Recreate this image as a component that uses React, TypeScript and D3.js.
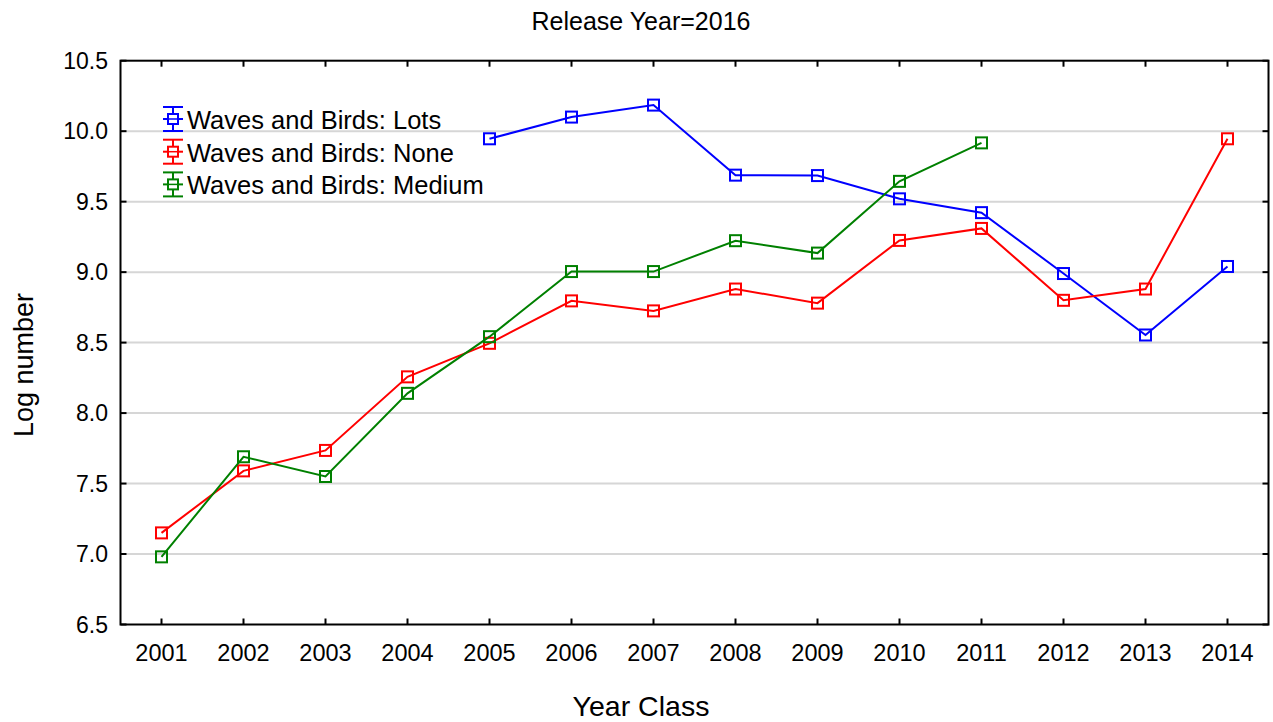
import React from "react";
import * as d3 from "d3";

const years = [2001, 2002, 2003, 2004, 2005, 2006, 2007, 2008, 2009, 2010, 2011, 2012, 2013, 2014];
const lots: (number | null)[] = [null, null, null, null, 9.946, 10.10, 10.185, 9.688, 9.685, 9.52, 9.422, 8.99, 8.554, 9.04];
const none: (number | null)[] = [7.15, 7.59, 7.735, 8.257, 8.495, 8.796, 8.725, 8.88, 8.78, 9.225, 9.31, 8.80, 8.88, 9.946];
const medium: (number | null)[] = [6.98, 7.69, 7.55, 8.14, 8.542, 9.004, 9.004, 9.223, 9.135, 9.644, 9.917, null, null, null];
const yTicks = [6.5, 7.0, 7.5, 8.0, 8.5, 9.0, 9.5, 10.0, 10.5];
const seriesNames = ["Waves and Birds: Lots", "Waves and Birds: None", "Waves and Birds: Medium"];
const seriesColors = ["#0000ff", "#ff0000", "#008000"];
const title = "Release Year=2016";
const xTitle = "Year Class";
const yTitle = "Log number";

const W = 1273;
const H = 722;
const L = 120.5, R = 1268.5, T = 60.7, B = 624.5;
const FONT = "'Liberation Sans', Arial, sans-serif";

export default function App() {
  const x = d3.scaleLinear().domain([2000.5, 2014.5]).range([L, R]);
  const y = d3.scaleLinear().domain([6.5, 10.5]).range([B, T]);
  const allSeries = [lots, none, medium];
  const line = d3
    .line<[number, number | null]>()
    .defined((d) => d[1] !== null)
    .x((d) => x(d[0]))
    .y((d) => y(d[1] as number));
  const ms = 11;
  return (
    <div style={{ position: "absolute", left: 0, top: 0 }}>
      <svg width={W} height={H} style={{ display: "block", background: "#fff" }} fontFamily={FONT}>
        <rect x={0} y={0} width={W} height={H} fill="#fff" />
        {/* gridlines */}
        {yTicks
          .filter((t) => t > 6.5 && t < 10.5)
          .map((t) => (
            <line key={"g" + t} x1={L} x2={R} y1={y(t)} y2={y(t)} stroke="#d6d6d6" strokeWidth={2} />
          ))}
        {/* series */}
        {allSeries.map((s, i) => {
          const pts = years.map((yr, j) => [yr, s[j]] as [number, number | null]);
          return (
            <g key={"s" + i}>
              <path d={line(pts) || ""} fill="none" stroke={seriesColors[i]} strokeWidth={2} />
              {pts
                .filter((p) => p[1] !== null)
                .map((p) => (
                  <rect
                    key={p[0]}
                    x={x(p[0]) - ms / 2}
                    y={y(p[1] as number) - ms / 2}
                    width={ms}
                    height={ms}
                    fill="none"
                    stroke={seriesColors[i]}
                    strokeWidth={2}
                  />
                ))}
            </g>
          );
        })}
        {/* frame */}
        <rect x={L} y={T} width={R - L} height={B - T} fill="none" stroke="#000" strokeWidth={2} />
        {/* y ticks */}
        {yTicks.map((t) => (
          <g key={"yt" + t}>
            <line x1={L} x2={L + 6} y1={y(t)} y2={y(t)} stroke="#000" strokeWidth={2} />
            <line x1={R - 6} x2={R} y1={y(t)} y2={y(t)} stroke="#000" strokeWidth={2} />
            <text x={108} y={y(t)} dy="0.36em" textAnchor="end" fontSize={23} fill="#000">
              {t.toFixed(1)}
            </text>
          </g>
        ))}
        {/* x ticks */}
        {years.map((yr) => (
          <g key={"xt" + yr}>
            <line x1={x(yr)} x2={x(yr)} y1={B} y2={B - 6} stroke="#000" strokeWidth={2} />
            <line x1={x(yr)} x2={x(yr)} y1={T} y2={T + 6} stroke="#000" strokeWidth={2} />
            <text x={x(yr)} y={661} textAnchor="middle" fontSize={23.5} fill="#000">
              {yr}
            </text>
          </g>
        ))}
        {/* legend */}
        {seriesNames.map((n, i) => {
          const cy = 119 + i * 32.7;
          const cx = 173;
          const c = seriesColors[i];
          return (
            <g key={"l" + i}>
              <line x1={cx} x2={cx} y1={cy - 12} y2={cy + 12} stroke={c} strokeWidth={2} />
              <line x1={cx - 10} x2={cx + 10} y1={cy - 12} y2={cy - 12} stroke={c} strokeWidth={2} />
              <line x1={cx - 10} x2={cx + 10} y1={cy + 12} y2={cy + 12} stroke={c} strokeWidth={2} />
              <line x1={cx - 10} x2={cx + 10} y1={cy} y2={cy} stroke={c} strokeWidth={2} />
              <rect x={cx - 5} y={cy - 5} width={10} height={10} fill="#fff" stroke={c} strokeWidth={2} />
              <line x1={cx - 5} x2={cx + 5} y1={cy} y2={cy} stroke={c} strokeWidth={1.5} />
              <text x={187} y={cy + 10} fontSize={25.5} fill="#000">
                {n}
              </text>
            </g>
          );
        })}
        {/* titles */}
        <text x={641} y={30} textAnchor="middle" fontSize={25} fill="#000">
          {title}
        </text>
        <text x={641} y={716} textAnchor="middle" fontSize={28.5} fill="#000">
          {xTitle}
        </text>
        <text transform={`translate(33,365) rotate(-90)`} textAnchor="middle" fontSize={27} fill="#000">
          {yTitle}
        </text>
      </svg>
    </div>
  );
}
